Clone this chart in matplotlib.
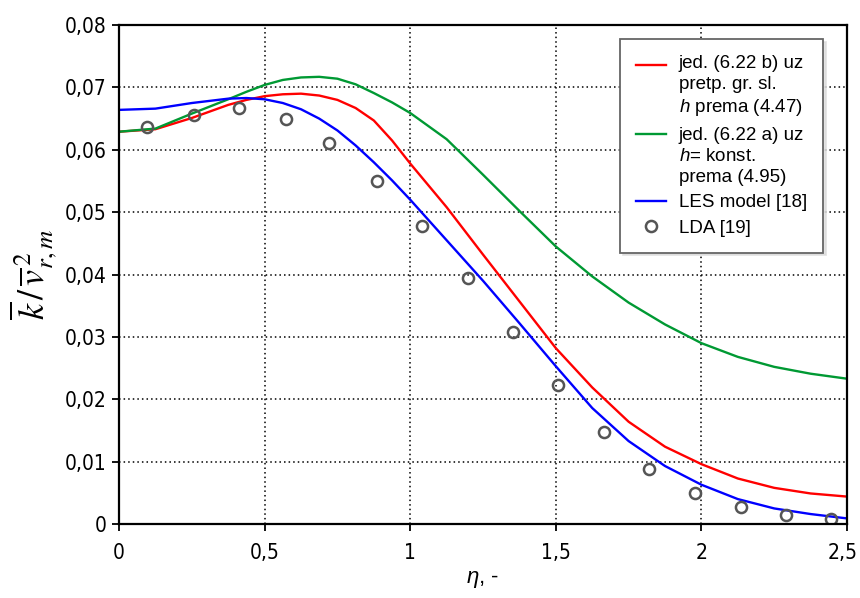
import matplotlib
matplotlib.use("Agg")
import matplotlib.pyplot as plt
import matplotlib.transforms as mtransforms
from matplotlib.ticker import FuncFormatter
from matplotlib import font_manager

plt.rcParams['font.family'] = ['Liberation Sans', 'DejaVu Sans']
plt.rcParams['mathtext.fontset'] = 'custom'
plt.rcParams['mathtext.it'] = 'Liberation Sans:italic'
plt.rcParams['mathtext.rm'] = 'Liberation Sans'

# curves
eta = [0, 0.125, 0.25, 0.375, 0.4375, 0.5, 0.5625, 0.625, 0.6875, 0.75, 0.8125,
       0.875, 0.9375, 1.0, 1.125, 1.25, 1.375, 1.5, 1.625, 1.75, 1.875, 2.0,
       2.125, 2.25, 2.375, 2.5]
k_red = [0.0629, 0.0633, 0.0651, 0.0672, 0.0680, 0.0686, 0.0689, 0.0690, 0.0687,
         0.0680, 0.0667, 0.0647, 0.0615, 0.0578, 0.0508, 0.0432, 0.0357, 0.0282,
         0.0219, 0.0164, 0.0124, 0.0096, 0.0073, 0.0058, 0.0049, 0.0044]
k_green = [0.0629, 0.0634, 0.0658, 0.0681, 0.0693, 0.0704, 0.0712, 0.0716, 0.0717,
           0.0714, 0.0705, 0.0691, 0.0676, 0.0659, 0.0617, 0.0560, 0.0502, 0.0445,
           0.0397, 0.0355, 0.0320, 0.0290, 0.0268, 0.0252, 0.0241, 0.0233]
k_blue = [0.0664, 0.0666, 0.0675, 0.0682, 0.0683, 0.0681, 0.0675, 0.0665, 0.0650,
          0.0631, 0.0607, 0.0580, 0.0551, 0.0520, 0.0455, 0.0390, 0.0322, 0.0253,
          0.0186, 0.0133, 0.0093, 0.0063, 0.0040, 0.0025, 0.0016, 0.0009]

# LDA measurements
eta_lda = [0.096, 0.258, 0.412, 0.573, 0.721, 0.886, 1.040, 1.198, 1.353, 1.508,
           1.666, 1.820, 1.978, 2.136, 2.290, 2.445]
k_lda = [0.0636, 0.0655, 0.0667, 0.0649, 0.0611, 0.0550, 0.0478, 0.0394, 0.0308,
         0.0223, 0.0147, 0.0088, 0.0050, 0.0027, 0.0014, 0.0008]

labels = ["jed. (6.22 b) uz\npretp. gr. sl.\n$h$ prema (4.47)",
          "jed. (6.22 a) uz\n$h$= konst.\nprema (4.95)",
          "LES model [18]",
          "LDA [19]"]

xticks = [0, 0.5, 1, 1.5, 2, 2.5]
yticks = [0, 0.01, 0.02, 0.03, 0.04, 0.05, 0.06, 0.07, 0.08]

fig = plt.figure(figsize=(8.6, 5.98), dpi=100)
ax = fig.add_axes([0.1384, 0.1237, 0.8465, 0.8344])

ax.plot(eta, k_red, color='#ff0000', lw=1.7, label=labels[0])
ax.plot(eta, k_green, color='#009933', lw=1.7, label=labels[1])
ax.plot(eta, k_blue, color='#0000ff', lw=1.7, label=labels[2])
ax.plot(eta_lda, k_lda, ls='none', marker='o', ms=8, mfc='none', mec='#555555',
        mew=1.8, label=labels[3])

ax.set_xlim(0, 2.5)
ax.set_ylim(0, 0.08)
ax.set_xticks(xticks)
ax.set_yticks(yticks)

def fmt_x(v, pos):
    if abs(v) < 1e-12:
        return "0"
    return ("%g" % round(v, 3)).replace('.', ',')

def fmt_y(v, pos):
    if abs(v) < 1e-12:
        return "0"
    return ("%.2f" % v).replace('.', ',')

ax.xaxis.set_major_formatter(FuncFormatter(fmt_x))
ax.yaxis.set_major_formatter(FuncFormatter(fmt_y))

names = {f.name for f in font_manager.fontManager.ttflist}
if 'Liberation Sans Narrow' in names:
    tick_font = dict(family='Liberation Sans Narrow')
else:
    tick_font = dict(family='DejaVu Sans', stretch='condensed')

ax.tick_params(labelsize=15, direction='out', length=5, width=1.3, pad=4)
ax.tick_params(axis='x', pad=9)
for lab in ax.get_xticklabels() + ax.get_yticklabels():
    lab.set_family(tick_font['family'])
    if 'stretch' in tick_font:
        lab.set_stretch(tick_font['stretch'])

# last x label sits at the figure edge, nudge it a little inwards
last = ax.get_xticklabels()[-1]
last.set_transform(last.get_transform() +
                   mtransforms.ScaledTranslation(-4 / 100, 0, fig.dpi_scale_trans))

ax.grid(True, color='black', ls=(0, (1, 2)), lw=1.1)
for sp in ax.spines.values():
    sp.set_linewidth(1.6)

ax.set_xlabel(r"$\eta$, -", fontsize=16, labelpad=4)
ax.set_ylabel(r"$\overline{k}\,/\,\overline{v}^{\,2}_{r,m}$", fontsize=26,
              math_fontfamily='stix', labelpad=4)

fs = 13.5
leg = ax.legend(loc='upper right', bbox_to_anchor=(0.967, 0.972), borderaxespad=0,
                fontsize=fs, frameon=True, fancybox=False, edgecolor='#666666',
                shadow={'color': '0.85', 'alpha': 0.7}, handlelength=1.6,
                labelspacing=0.45, borderpad=0.85, handletextpad=0.7)
leg.get_frame().set_linewidth(1.3)
for t in leg.get_texts():
    t.set_linespacing(1.3)

# put the line sample of the three-line entries next to their first line
for h in leg.legend_handles[:2]:
    yd = h.get_ydata()
    h.set_ydata([y + 15.6 for y in yd])

fig.savefig("out.png", dpi=100)
